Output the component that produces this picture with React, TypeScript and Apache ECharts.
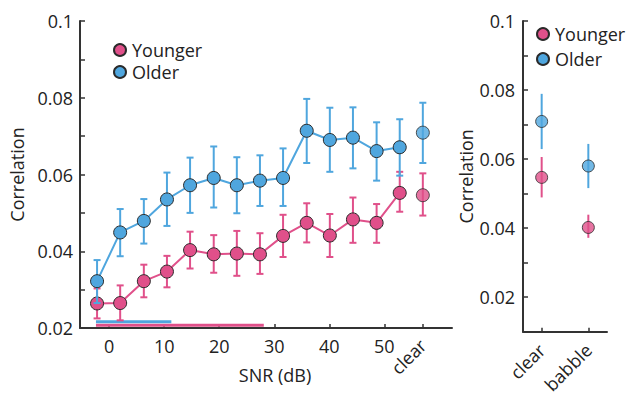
import React, { useEffect, useRef } from "react";
import * as echarts from "echarts";

// ---- Data ----
const snr = [-2.2, 2.0, 6.3, 10.5, 14.7, 19.0, 23.2, 27.4, 31.6, 35.9, 40.1, 44.3, 48.6, 52.8];
const clearPos = 57; // x position of the "clear" condition on the SNR axis
const snrTicks = [0, 10, 20, 30, 40, 50];

const youngerMean = [0.0264, 0.0265, 0.0322, 0.0347, 0.0403, 0.0392, 0.0394, 0.0392, 0.044, 0.0474, 0.0441, 0.0483, 0.0474, 0.0552];
const youngerLo = [0.0225, 0.022, 0.028, 0.0306, 0.0355, 0.0344, 0.0336, 0.0341, 0.0385, 0.0423, 0.0385, 0.0422, 0.0422, 0.0503];
const youngerHi = [0.0303, 0.0311, 0.0365, 0.0388, 0.0451, 0.0442, 0.0453, 0.0447, 0.0495, 0.0525, 0.0497, 0.054, 0.0523, 0.0607];
const youngerClear = [0.0546, 0.0493, 0.0603]; // mean, lo, hi

const olderMean = [0.0322, 0.0449, 0.0479, 0.0535, 0.0572, 0.0591, 0.0572, 0.0584, 0.0591, 0.0714, 0.069, 0.0696, 0.0661, 0.0671];
const olderLo = [0.0265, 0.0387, 0.042, 0.0466, 0.05, 0.0514, 0.0499, 0.0518, 0.0518, 0.063, 0.0607, 0.0616, 0.0584, 0.0597];
const olderHi = [0.0377, 0.051, 0.0536, 0.0605, 0.0644, 0.0673, 0.0645, 0.065, 0.0668, 0.0797, 0.0774, 0.0775, 0.0736, 0.0744];
const olderClear = [0.0709, 0.063, 0.0787];

// significance bars: [start SNR, end SNR, level]
const sigOlder = [-2.4, 11.3, 0.0216];
const sigYounger = [-2.4, 28.1, 0.0207];

const conditions = ["clear", "babble"];
const youngerCond = [0.0547, 0.0402];
const youngerCondLo = [0.0489, 0.0372];
const youngerCondHi = [0.0606, 0.0439];
const olderCond = [0.0709, 0.058];
const olderCondLo = [0.0629, 0.0516];
const olderCondHi = [0.0789, 0.0644];

const yLabels = [0.02, 0.04, 0.06, 0.08, 0.1];
const yTicksLeft = [0.02, 0.03, 0.04, 0.05, 0.06, 0.07, 0.08, 0.09, 0.1];
const yTicksRight = [0.01, 0.02, 0.03, 0.04, 0.05, 0.06, 0.07, 0.08, 0.09, 0.1];

// ---- Styles ----
const PINK = "#E0508A";
const BLUE = "#4FA6DE";
const INK = "#222";
const FONT = "Open Sans";
const FS = 18;

function errorSeries(xIndex: number, yIndex: number, data: number[][], color: string, cap: number, z: number) {
  return {
    type: "custom",
    xAxisIndex: xIndex,
    yAxisIndex: yIndex,
    z,
    silent: true,
    encode: { x: 0, y: [1, 2] },
    data,
    renderItem: (params: any, api: any) => {
      const x = api.value(0);
      const lo = api.coord([x, api.value(1)]);
      const hi = api.coord([x, api.value(2)]);
      const style = { stroke: color, lineWidth: 2 };
      const children: any[] = [
        { type: "line", shape: { x1: lo[0], y1: lo[1], x2: hi[0], y2: hi[1] }, style },
      ];
      if (cap > 0) {
        children.push({ type: "line", shape: { x1: lo[0] - cap, y1: lo[1], x2: lo[0] + cap, y2: lo[1] }, style });
        children.push({ type: "line", shape: { x1: hi[0] - cap, y1: hi[1], x2: hi[0] + cap, y2: hi[1] }, style });
      }
      return { type: "group", children };
    },
  };
}

export default function App() {
  const ref = useRef<HTMLDivElement>(null);

  useEffect(() => {
    document.body.style.margin = "0";
    const chart = echarts.init(ref.current!, null, { renderer: "svg" });

    const axisCommon = {
      axisLine: { show: true, onZero: false, lineStyle: { color: "#333", width: 2 } },
      splitLine: { show: false },
    };

    const yAxisBase = (gridIndex: number, min: number, ticks: number[], nameGap: number, margin: number) => ({
      type: "value",
      gridIndex,
      min,
      max: 0.1,
      name: "Correlation",
      nameLocation: "middle",
      nameGap,
      nameTextStyle: { fontFamily: FONT, fontSize: FS, color: INK },
      ...axisCommon,
      axisTick: { show: true, inside: true, length: 5, customValues: ticks, lineStyle: { color: "#333", width: 1.5 } },
      axisLabel: {
        customValues: yLabels,
        margin,
        fontFamily: FONT,
        fontSize: FS,
        color: INK,
        formatter: (v: number) => String(+v.toFixed(2)),
      },
    });

    const leftYoungXY = snr.map((x, i) => [x, youngerMean[i]]);
    const leftOlderXY = snr.map((x, i) => [x, olderMean[i]]);
    const leftYoungErr = snr.map((x, i) => [x, youngerLo[i], youngerHi[i]]);
    const leftOlderErr = snr.map((x, i) => [x, olderLo[i], olderHi[i]]);
    leftYoungErr.push([clearPos, youngerClear[1], youngerClear[2]]);
    leftOlderErr.push([clearPos, olderClear[1], olderClear[2]]);

    const condX = conditions.map((_, i) => i + 1);

    const markerStyle = (c: string) => ({ color: c, borderColor: "#2a2a2a", borderWidth: 1 });

    const legendCommon = {
      orient: "vertical",
      icon: "circle",
      itemWidth: 12,
      itemHeight: 12,
      itemGap: 4,
      padding: 0,
      selectedMode: false,
      textStyle: { fontFamily: FONT, fontSize: FS, lineHeight: 18, color: INK, padding: [0, 0, 0, 1] },
      data: ["Younger", "Older"],
    };

    chart.setOption({
      animation: false,
      textStyle: { fontFamily: FONT },
      grid: [
        { left: 80, top: 21, width: 372, height: 307 },
        { left: 523, top: 21, width: 84, height: 311 },
      ],
      legend: [
        { ...legendCommon, left: 113, top: 41 },
        { ...legendCommon, left: 536, top: 25, itemGap: 7 },
      ],
      xAxis: [
        {
          type: "value",
          gridIndex: 0,
          min: -5.3,
          max: 62.3,
          name: "SNR (dB)",
          nameLocation: "middle",
          nameGap: 38,
          nameTextStyle: { fontFamily: FONT, fontSize: FS, color: INK, padding: [0, 0, 0, 18] },
          ...axisCommon,
          axisTick: { show: true, inside: true, length: 4, customValues: [...snrTicks, clearPos], lineStyle: { color: "#333", width: 1.5 } },
          axisLabel: { customValues: snrTicks, margin: 9, fontFamily: FONT, fontSize: FS, color: INK },
        },
        {
          type: "value",
          gridIndex: 0,
          min: -5.3,
          max: 62.3,
          position: "bottom",
          axisLine: { show: false },
          axisTick: { show: false },
          splitLine: { show: false },
          axisLabel: {
            customValues: [clearPos],
            rotate: 45,
            margin: 14,
            fontFamily: FONT,
            fontSize: FS,
            color: INK,
            formatter: () => "clear",
          },
        },
        {
          type: "value",
          gridIndex: 1,
          min: 0.6,
          max: 2.4,
          ...axisCommon,
          axisTick: { show: true, inside: true, length: 4, customValues: condX, lineStyle: { color: "#333", width: 1.5 } },
          axisLabel: {
            customValues: condX,
            rotate: 45,
            margin: 15,
            fontFamily: FONT,
            fontSize: FS,
            color: INK,
            formatter: (v: number) => conditions[Math.round(v) - 1],
          },
        },
      ],
      yAxis: [yAxisBase(0, 0.02, yTicksLeft, 47, 7), yAxisBase(1, 0.01, yTicksRight, 47, 8)],
      series: [
        // significance bars
        {
          type: "line",
          xAxisIndex: 0,
          yAxisIndex: 0,
          data: [[sigYounger[0], sigYounger[2]], [sigYounger[1], sigYounger[2]]],
          showSymbol: false,
          lineStyle: { color: PINK, width: 3, cap: "butt" },
          silent: true,
          z: 1,
        },
        {
          type: "line",
          xAxisIndex: 0,
          yAxisIndex: 0,
          data: [[sigOlder[0], sigOlder[2]], [sigOlder[1], sigOlder[2]]],
          showSymbol: false,
          lineStyle: { color: BLUE, width: 3, cap: "butt" },
          silent: true,
          z: 1,
        },
        // left panel: younger
        errorSeries(0, 0, leftYoungErr, PINK, 3.5, 2),
        {
          name: "Younger",
          type: "line",
          xAxisIndex: 0,
          yAxisIndex: 0,
          data: leftYoungXY,
          symbol: "circle",
          symbolSize: 13,
          lineStyle: { color: PINK, width: 2 },
          itemStyle: markerStyle(PINK),
          z: 3,
        },
        {
          type: "scatter",
          xAxisIndex: 0,
          yAxisIndex: 0,
          data: [[clearPos, youngerClear[0]]],
          symbolSize: 13,
          itemStyle: markerStyle(PINK),
          z: 3,
        },
        // left panel: older
        errorSeries(0, 0, leftOlderErr, BLUE, 3.5, 4),
        {
          name: "Older",
          type: "line",
          xAxisIndex: 0,
          yAxisIndex: 0,
          data: leftOlderXY,
          symbol: "circle",
          symbolSize: 13,
          lineStyle: { color: BLUE, width: 2 },
          itemStyle: markerStyle(BLUE),
          z: 5,
        },
        {
          type: "scatter",
          xAxisIndex: 0,
          yAxisIndex: 0,
          data: [[clearPos, olderClear[0]]],
          symbolSize: 13,
          itemStyle: markerStyle(BLUE),
          z: 5,
        },
        // right panel
        errorSeries(2, 1, condX.map((x, i) => [x, youngerCondLo[i], youngerCondHi[i]]), PINK, 0, 2),
        {
          type: "scatter",
          xAxisIndex: 2,
          yAxisIndex: 1,
          data: condX.map((x, i) => [x, youngerCond[i]]),
          symbolSize: 12,
          itemStyle: markerStyle(PINK),
          z: 3,
        },
        errorSeries(2, 1, condX.map((x, i) => [x, olderCondLo[i], olderCondHi[i]]), BLUE, 0, 4),
        {
          type: "scatter",
          xAxisIndex: 2,
          yAxisIndex: 1,
          data: condX.map((x, i) => [x, olderCond[i]]),
          symbolSize: 12,
          itemStyle: markerStyle(BLUE),
          z: 5,
        },
      ],
    });

    return () => chart.dispose();
  }, []);

  return <div ref={ref} style={{ width: 629, height: 396 }} />;
}
